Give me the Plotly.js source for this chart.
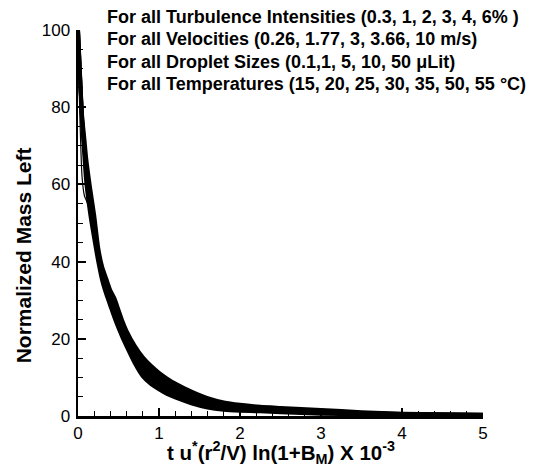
<!DOCTYPE html>
<html>
<head>
<meta charset="utf-8">
<script src="https://cdn.plot.ly/plotly-3.0.1.min.js"></script>
<style>html,body{margin:0;padding:0;background:#fff;}#chart{width:550px;height:467px;}</style>
</head>
<body>
<div id="chart"></div>
<script>
// Shared abscissa: t u*(r^2/V) ln(1+B_M) x 10^-3
const xGrid = [0, 0.02, 0.05, 0.08, 0.1, 0.15, 0.2, 0.25, 0.3, 0.35, 0.4, 0.45, 0.5, 0.55, 0.6, 0.7, 0.8, 0.9, 1.0, 1.1, 1.2, 1.4, 1.6, 1.8, 2.0, 2.25, 2.5, 3.0, 3.5, 4.0, 4.5, 5.0];

// Normalized mass left: lower and upper edge of the collapsed family of cases, plus middle case
const massLowEdge  = [100, 90, 76.5, 67, 61, 52.5, 46, 40, 35, 31.5, 28.5, 25.5, 22.8, 20.3, 18, 13.7, 10.3, 8.3, 6.9, 5.7, 4.8, 3.3, 2.2, 1.6, 1.35, 1.2, 1.0, 0.6, 0.45, 0.35, 0.3, 0.25];
const massMidCase  = [100, 90.5, 77.3, 69.2, 64, 55.8, 49, 41.8, 36.8, 33.5, 30.5, 28, 25.2, 22.4, 20, 16, 12.8, 10.6, 9.0, 7.7, 6.6, 4.8, 3.4, 2.5, 2.1, 1.8, 1.55, 1.1, 0.75, 0.5, 0.38, 0.3];
const massHighEdge = [100, 91, 78, 71.5, 67, 59, 52, 43.5, 38.5, 35.5, 32.5, 30.5, 27.5, 24.5, 22, 18.2, 15.2, 13, 11.2, 9.7, 8.4, 6.3, 4.6, 3.5, 2.9, 2.4, 2.1, 1.55, 1.0, 0.6, 0.45, 0.35];
const massOutlier  = [100, 80, 62, 57, 56, 53, 47, 40, 35, 31.5, 28.5, 25.5, 22.8, 20.3, 18, 13.7, 10.3, 8.3, 6.9, 5.7, 4.8, 3.3, 2.2, 1.6, 1.35, 1.2, 1.0, 0.6, 0.45, 0.35, 0.3, 0.25];

const annotationLines = [
  "For all Turbulence Intensities (0.3, 1, 2, 3, 4, 6% )",
  "For all Velocities (0.26, 1.77, 3, 3.66, 10 m/s)",
  "For all Droplet Sizes (0.1,1, 5, 10, 50 \u03BCLit)",
  "For all Temperatures (15, 20, 25, 30, 35, 50, 55 \u00B0C)"
];
const xTitle = "t u<sup>*</sup>(r<sup>2</sup>/V) ln(1+B<sub>M</sub>) X 10<sup>-3</sup>";
const yTitle = "Normalized Mass Left";

const lineStyle = {color: 'black', width: 4, shape: 'spline', smoothing: 0.6};
const traces = [
  {x: xGrid, y: massLowEdge, type: 'scatter', mode: 'lines', line: lineStyle, showlegend: false, hoverinfo: 'skip'},
  {x: xGrid, y: massHighEdge, type: 'scatter', mode: 'lines', line: lineStyle, fill: 'tonexty', fillcolor: 'black', showlegend: false, hoverinfo: 'skip'},
  {x: xGrid, y: massMidCase, type: 'scatter', mode: 'lines', line: lineStyle, showlegend: false, hoverinfo: 'skip'},
  {x: xGrid, y: massOutlier, type: 'scatter', mode: 'lines', line: {color: 'black', width: 1.2, shape: 'spline', smoothing: 0.6}, showlegend: false, hoverinfo: 'skip'}
];

const lineY = [1.034, 0.977, 0.918, 0.861];
const annotations = annotationLines.map((t, i) => ({
  text: t, xref: 'paper', yref: 'paper', x: 0.066, y: lineY[i],
  xanchor: 'left', yanchor: 'middle', showarrow: false,
  font: {family: 'Liberation Sans, Arial, sans-serif', size: 18, color: 'black', weight: 'bold'}
}));
annotations.push({
  text: '<b>' + yTitle + '</b>', xref: 'paper', yref: 'paper', x: -0.135, y: 0.417,
  xanchor: 'center', yanchor: 'middle', textangle: -90, showarrow: false,
  font: {family: 'Liberation Sans, Arial, sans-serif', size: 21, color: 'black'}
});
annotations.push({
  text: '<b>' + xTitle + '</b>', xref: 'paper', yref: 'paper', x: 0.5, y: -0.094,
  xanchor: 'center', yanchor: 'middle', showarrow: false,
  font: {family: 'Liberation Sans, Arial, sans-serif', size: 20.5, color: 'black'}
});

const axisCommon = {
  showgrid: false, zeroline: false, showline: true, linecolor: 'black', linewidth: 2.5,
  mirror: false, ticks: 'inside', ticklen: 8, tickwidth: 2, tickcolor: 'black',
  tickfont: {family: 'Liberation Sans, Arial, sans-serif', size: 17, color: 'black'}
};

const layout = {
  width: 550, height: 467,
  margin: {l: 78, r: 67, t: 30, b: 51},
  paper_bgcolor: 'white', plot_bgcolor: 'white',
  showlegend: false,
  xaxis: Object.assign({}, axisCommon, {
    range: [0, 5], tickvals: [0, 1, 2, 3, 4, 5], ticklabelstandoff: 0,
    minor: {dtick: 0.2, ticks: 'inside', ticklen: 5, tickwidth: 1, tickcolor: 'black'}
  }),
  yaxis: Object.assign({}, axisCommon, {
    range: [0, 100], tickvals: [0, 20, 40, 60, 80, 100], ticklabelstandoff: 2,
    minor: {dtick: 5, ticks: 'inside', ticklen: 5, tickwidth: 1, tickcolor: 'black'}
  }),
  annotations: annotations
};

Plotly.newPlot('chart', traces, layout, {displayModeBar: false, staticPlot: true});
</script>
</body>
</html>
